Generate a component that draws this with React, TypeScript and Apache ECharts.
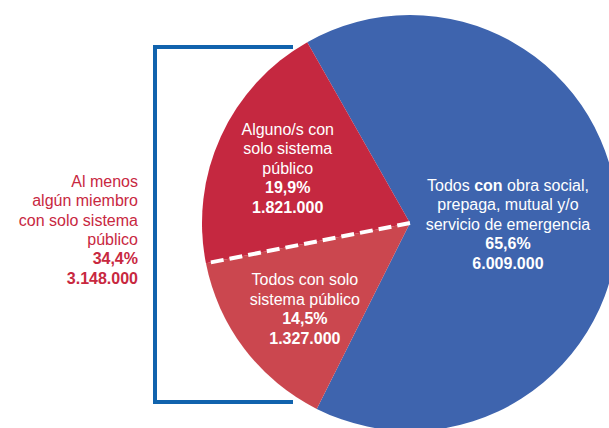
import React, { useEffect, useRef } from "react";
import * as echarts from "echarts";

const categories = [
  "Todos con obra social, prepaga, mutual y/o servicio de emergencia",
  "Todos con solo sistema público",
  "Alguno/s con solo sistema público",
];
const values = [6009000, 1327000, 1821000];
const sliceLabels = [
  "{n|Todos }{b|con}{n| obra social,}\n{n|prepaga, mutual y/o}\n{n|servicio de emergencia}",
  "{n|Todos con solo}\n{n|sistema público}",
  "{n|Alguno/s con}\n{n|solo sistema}\n{n|público}",
];
const sideLabel = ["Al menos", "algún miembro", "con solo sistema", "público"];

const colors = ["#3e64ae", "#cb474f", "#c52840"];
const labelOffsets = [
  [-9, 4],
  [-20, 21],
  [-25, -10],
];

const fmtNum = (v: number) => String(v).replace(/\B(?=(\d{3})+(?!\d))/g, ".");
const fmtPct = (p: number) => p.toFixed(1).replace(".", ",") + "%";

export default function App() {
  const ref = useRef<HTMLDivElement>(null);
  useEffect(() => {
    if (!ref.current) return;
    const chart = echarts.init(ref.current, null, { renderer: "svg" });
    const total = values.reduce((a, b) => a + b, 0);
    const cx = 410;
    const cy = 223;
    const r = 208;
    const startAngle = 119.6;
    const sepAngle = ((startAngle - ((values[0] + values[1]) / total) * 360) * Math.PI) / 180;
    const ex = cx + r * Math.cos(sepAngle);
    const ey = cy - r * Math.sin(sepAngle);
    const redSum = values[1] + values[2];
    const font = "'Liberation Sans', Arial, sans-serif";
    const red = "#c8283f";

    chart.setOption({
      animation: false,
      series: [
        {
          type: "pie",
          center: [cx, cy],
          radius: [0, r],
          startAngle,
          clockwise: true,
          silent: true,
          itemStyle: { borderWidth: 0 },
          label: {
            show: true,
            position: "inside",
            color: "#fff",
            fontFamily: font,
            fontSize: 16,
            lineHeight: 19.5,
            align: "center",
            formatter: (p: any) =>
              sliceLabels[p.dataIndex] +
              "\n{b|" +
              fmtPct((values[p.dataIndex] / total) * 100) +
              "}\n{b|" +
              fmtNum(values[p.dataIndex]) +
              "}",
            rich: {
              n: { fontFamily: font, fontSize: 16, color: "#fff", lineHeight: 19.5 },
              b: { fontFamily: font, fontSize: 16, color: "#fff", fontWeight: "bold", lineHeight: 19.5 },
            },
          },
          labelLine: { show: false },
          data: categories.map((name, i) => ({
            name,
            value: values[i],
            itemStyle: { color: colors[i] },
            label: { offset: labelOffsets[i] },
          })),
        },
      ],
      graphic: [
        {
          type: "line",
          shape: { x1: cx, y1: cy, x2: ex, y2: ey },
          style: { stroke: "#ffffff", lineWidth: 4, lineDash: [13, 6] },
          z: 10,
        },
        {
          type: "polyline",
          shape: {
            points: [
              [293, 47],
              [155, 47],
              [155, 402],
              [293, 402],
            ],
          },
          style: { stroke: "#1163ad", lineWidth: 4, fill: "none" },
        },
        {
          type: "text",
          x: 138,
          y: 172,
          style: {
            text:
              sideLabel.map((s) => "{n|" + s + "}").join("\n") +
              "\n{b|" +
              fmtPct((redSum / total) * 100) +
              "}\n{b|" +
              fmtNum(redSum) +
              "}",
            align: "right",
            verticalAlign: "top",
            fill: red,
            rich: {
              n: { fontFamily: font, fontSize: 16, fill: red, color: red, lineHeight: 19.3, align: "right" },
              b: { fontFamily: font, fontSize: 16, fill: red, color: red, fontWeight: "bold", lineHeight: 19.3, align: "right" },
            },
          },
        },
      ],
    });
    return () => chart.dispose();
  }, []);
  return (
    <div
      ref={ref}
      style={{ position: "absolute", left: 0, top: 0, width: 609, height: 428, background: "#fff" }}
    />
  );
}
